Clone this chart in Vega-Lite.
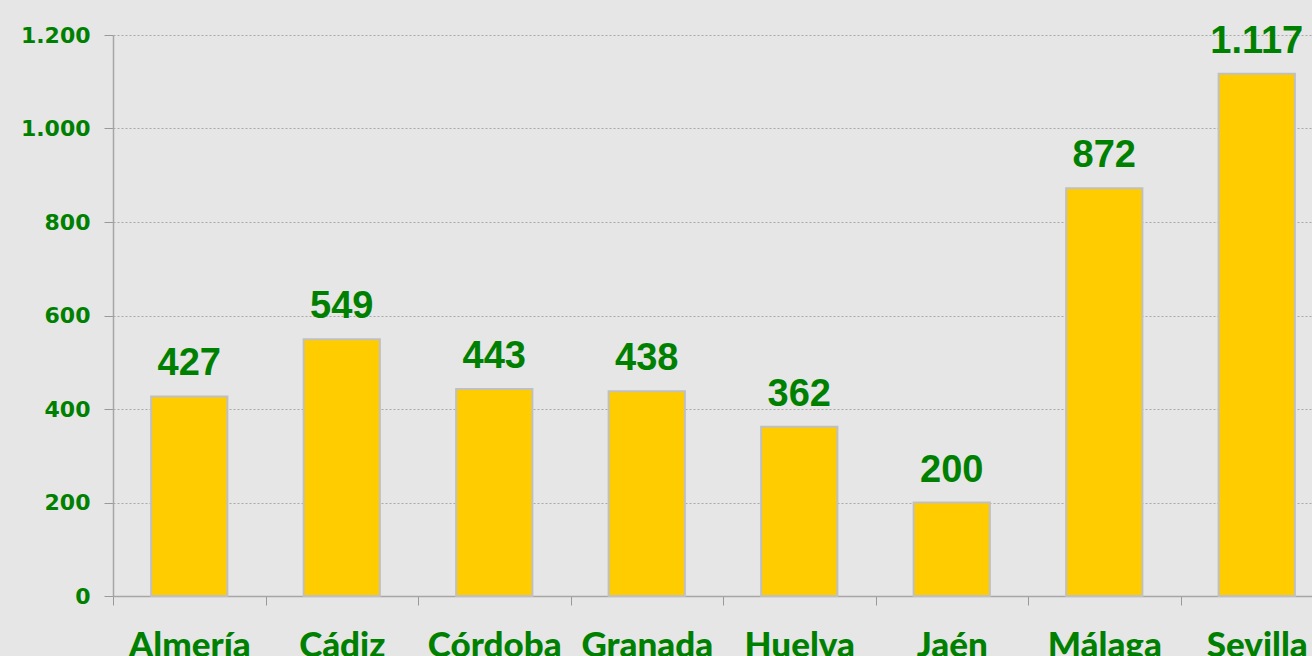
{
  "$schema": "https://vega.github.io/schema/vega-lite/v6.json",
  "autosize": {"type": "none"},
  "padding": {"left": 113, "top": 35, "right": 0, "bottom": 60},
  "width": 1199,
  "height": 561,
  "background": "#e6e6e6",
  "data": {
    "values": [
      {"provincia": "Almería", "valor": 427},
      {"provincia": "Cádiz", "valor": 549},
      {"provincia": "Córdoba", "valor": 443},
      {"provincia": "Granada", "valor": 438},
      {"provincia": "Huelva", "valor": 362},
      {"provincia": "Jaén", "valor": 200},
      {"provincia": "Málaga", "valor": 872},
      {"provincia": "Sevilla", "valor": 1117}
    ]
  },
  "encoding": {
    "x": {
      "field": "provincia",
      "type": "nominal",
      "sort": null,
      "scale": {"range": [0, 1220], "paddingInner": 0, "paddingOuter": 0},
      "axis": {
        "title": null,
        "labelAngle": 0,
        "labelFont": "Lato",
        "labelFontWeight": 900,
        "labelFontSize": 35,
        "labelColor": "#008000",
        "labelPadding": 23,
        "labelBaseline": "top",
        "tickBand": "extent",
        "tickSize": 9,
        "tickColor": "#999999",
        "domainColor": "#a6a6a6",
        "domainWidth": 1.5,
        "grid": false,
        "labelOverlap": false
      }
    },
    "y": {
      "field": "valor",
      "type": "quantitative",
      "scale": {"domain": [0, 1200], "nice": false},
      "axis": {
        "title": null,
        "values": [0, 200, 400, 600, 800, 1000, 1200],
        "format": ",d",
        "labelFont": "DejaVu Sans",
        "labelFontWeight": "bold",
        "labelFontSize": 22,
        "labelColor": "#008000",
        "labelPadding": 14,
        "tickSize": 9,
        "tickColor": "#999999",
        "domainColor": "#a6a6a6",
        "domainWidth": 1.5,
        "grid": true,
        "gridColor": "#a8a8a8",
        "gridDash": [2, 2],
        "gridWidth": 1
      }
    }
  },
  "layer": [
    {
      "mark": {"type": "bar", "width": {"band": 0.5}, "color": "#ffcc00", "stroke": "#c0c0c0", "strokeWidth": 2}
    },
    {
      "mark": {"type": "text", "dy": -21, "baseline": "alphabetic", "font": "Liberation Sans", "fontWeight": "bold", "fontSize": 38, "color": "#008000"},
      "encoding": {"text": {"field": "valor", "type": "quantitative", "format": ",d"}}
    }
  ],
  "config": {
    "locale": {"number": {"decimal": ",", "thousands": ".", "grouping": [3], "currency": ["", " €"]}},
    "view": {"stroke": null}
  }
}
